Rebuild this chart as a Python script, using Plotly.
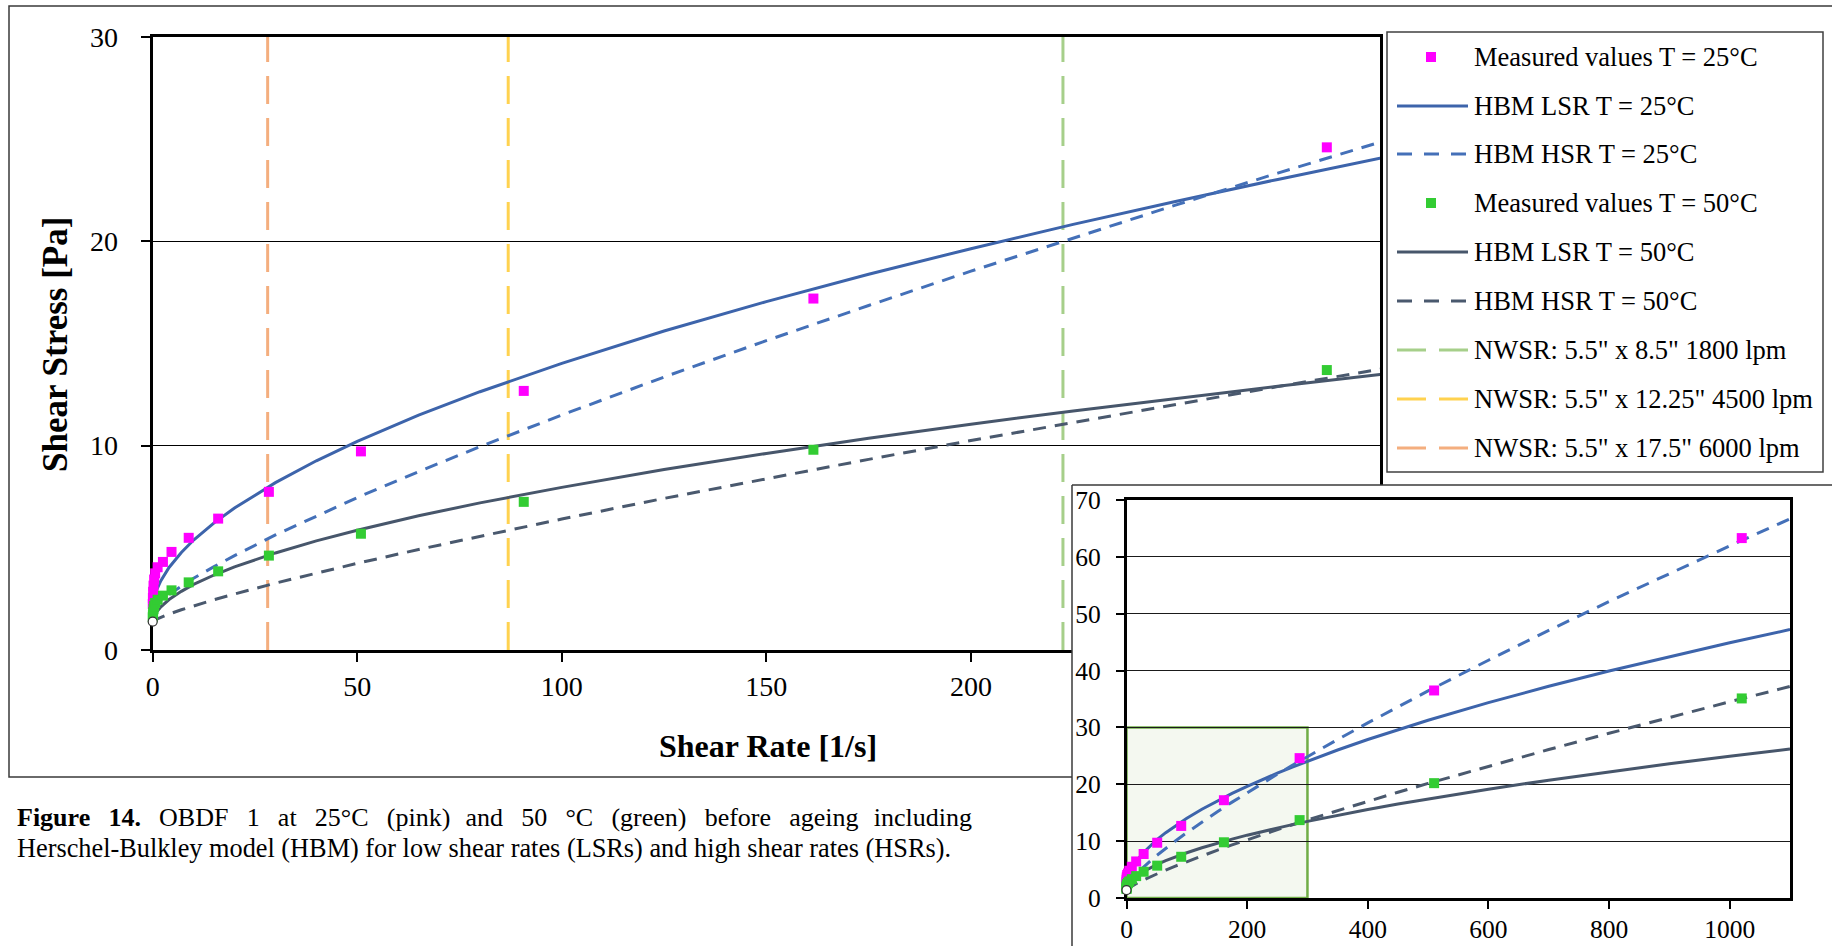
import plotly.graph_objects as go

# ---------------- data ----------------
shear_rate_measured = [0.02, 0.05, 0.1, 0.2, 0.35, 0.6, 1.2, 2.5, 4.6, 8.8, 16.0, 28.4,
                       50.9, 90.7, 161.5, 287.0, 510.0, 1020.0]
stress_measured_25 = [2.25, 2.55, 2.85, 3.15, 3.45, 3.75, 4.05, 4.31, 4.8, 5.49, 6.43, 7.74,
                      9.72, 12.68, 17.2, 24.6, 36.5, 63.3]
stress_measured_50 = [1.6, 1.7, 1.85, 2.0, 2.15, 2.3, 2.46, 2.66, 2.92, 3.31, 3.85, 4.62,
                      5.69, 7.25, 9.8, 13.7, 20.2, 35.1]

model_shear_rate = [0, 0.1, 0.25, 0.5, 1, 2, 4, 7, 10, 15, 20, 30, 40, 50, 65, 80, 100, 125,
                    150, 175, 200, 225, 250, 275, 300, 350, 400, 450, 500, 600, 700, 800,
                    900, 1000, 1100]
hbm_lsr_25 = [2.00, 2.27, 2.44, 2.65, 2.95, 3.39, 4.04, 4.77, 5.38, 6.22, 6.95, 8.19, 9.26,
              10.21, 11.49, 12.64, 14.03, 15.61, 17.05, 18.39, 19.64, 20.83, 21.95, 23.03,
              24.07, 26.03, 27.87, 29.60, 31.26, 34.36, 37.23, 39.92, 42.47, 44.90, 47.21]
hbm_hsr_25 = [2.00, 2.04, 2.08, 2.14, 2.24, 2.42, 2.72, 3.13, 3.51, 4.08, 4.62, 5.63, 6.56,
              7.46, 8.73, 9.95, 11.50, 13.36, 15.14, 16.86, 18.54, 20.17, 21.77, 23.34,
              24.87, 27.88, 30.79, 33.64, 36.42, 41.82, 47.06, 52.13, 57.09, 61.93, 66.68]
hbm_lsr_50 = [1.35, 1.50, 1.59, 1.71, 1.87, 2.11, 2.47, 2.87, 3.21, 3.67, 4.07, 4.75, 5.34,
              5.86, 6.57, 7.20, 7.96, 8.83, 9.62, 10.36, 11.05, 11.70, 12.32, 12.91,
              13.48, 14.56, 15.57, 16.52, 17.43, 19.14, 20.72, 22.20, 23.60, 24.93, 26.21]
hbm_hsr_50 = [1.40, 1.42, 1.44, 1.47, 1.51, 1.60, 1.76, 1.97, 2.16, 2.46, 2.74, 3.27, 3.76,
              4.24, 4.92, 5.57, 6.41, 7.42, 8.39, 9.33, 10.25, 11.14, 12.02, 12.89,
              13.74, 15.40, 17.02, 18.60, 20.15, 23.18, 26.11, 28.97, 31.77, 34.51, 37.20]

yield_point_rate = [0]
yield_point_stress = [1.39]

nwsr_rates = [222.5, 86.9, 28.1]
nwsr_labels = ['NWSR: 5.5" x 8.5" 1800 lpm',
               'NWSR: 5.5" x 12.25" 4500 lpm',
               'NWSR: 5.5" x 17.5" 6000 lpm']

main_x_ticks = [0, 50, 100, 150, 200, 250, 300]
main_y_ticks = [0, 10, 20, 30]
inset_x_ticks = [0, 200, 400, 600, 800, 1000]
inset_y_ticks = [0, 10, 20, 30, 40, 50, 60, 70]
MAIN_X_RANGE = [0, 300]
MAIN_Y_RANGE = [0, 30]
INSET_X_RANGE = [0, 1100]
INSET_Y_RANGE = [0, 70]

# ---------------- styles ----------------
PINK = '#FF00FF'
GREEN = '#33CC33'
BLUE = '#3D64AB'
BLUE_D = '#4470B8'
SLATE = '#47566B'
SLATE_D = '#4A596E'
NW_COLORS = ['#A6CF8A', '#FFD24F', '#F4AE7E']
FONT = 'Liberation Serif, Times New Roman, serif'

W, H = 1832, 946


def px(x):
    return x / W


def py(y):
    return 1 - y / H


fig = go.Figure()

for rate, col in zip(nwsr_rates, NW_COLORS):
    fig.add_trace(go.Scatter(x=[rate, rate], y=MAIN_Y_RANGE, mode='lines',
                             line=dict(color=col, width=3, dash='28px,14px'),
                             showlegend=False, hoverinfo='skip', xaxis='x', yaxis='y'))

# placeholder (invisible) trace so the cover subplot behind the inset is created
fig.add_trace(go.Scatter(x=[0.5], y=[0.5], mode='markers', marker=dict(opacity=0, size=1),
                         showlegend=False, hoverinfo='skip', xaxis='x2', yaxis='y2'))

curves = [(hbm_lsr_25, BLUE, 'solid'), (hbm_hsr_25, BLUE_D, '13px,9px'),
          (hbm_lsr_50, SLATE, 'solid'), (hbm_hsr_50, SLATE_D, '13px,9px')]

for xa, ya, msize in [('x', 'y', 10), ('x3', 'y3', 10)]:
    for vals, col, dash in curves:
        fig.add_trace(go.Scatter(x=model_shear_rate, y=vals, mode='lines',
                                 line=dict(color=col, width=3, dash=dash),
                                 showlegend=False, xaxis=xa, yaxis=ya))
    fig.add_trace(go.Scatter(x=shear_rate_measured, y=stress_measured_25, mode='markers',
                             marker=dict(symbol='square', size=msize, color=PINK),
                             showlegend=False, cliponaxis=False, xaxis=xa, yaxis=ya))
    fig.add_trace(go.Scatter(x=shear_rate_measured, y=stress_measured_50, mode='markers',
                             marker=dict(symbol='square', size=msize, color=GREEN),
                             showlegend=False, cliponaxis=False, xaxis=xa, yaxis=ya))
    fig.add_trace(go.Scatter(x=yield_point_rate, y=yield_point_stress, mode='markers',
                             marker=dict(symbol='circle', size=9, color='white',
                                         line=dict(color='#333333', width=1.2)),
                             showlegend=False, cliponaxis=False, xaxis=xa, yaxis=ya))

main_dom_x = [px(152.7), px(1380)]
main_dom_y = [py(650), py(37)]
frame_dom_x = [px(1072), 1]
frame_dom_y = [0, py(485)]
inset_dom_x = [px(1126.5), px(1790)]
inset_dom_y = [py(898), py(500)]

fig.update_layout(
    autosize=True,
    margin=dict(l=0, r=0, t=0, b=0, pad=0),
    paper_bgcolor='white', plot_bgcolor='white',
    font=dict(family=FONT, color='black'),
    showlegend=False,
    xaxis=dict(domain=main_dom_x, range=MAIN_X_RANGE, tickvals=main_x_ticks,
               showgrid=False, zeroline=False, showline=True, mirror=True,
               linecolor='black', linewidth=3, ticks='outside', ticklen=9,
               tickwidth=1.5, tickcolor='black', tickfont=dict(size=28, family=FONT),
               ticklabelstandoff=0, anchor='y', layer='below traces', automargin=False),
    yaxis=dict(domain=main_dom_y, range=MAIN_Y_RANGE, tickvals=main_y_ticks,
               showgrid=True, gridcolor='black', gridwidth=1, zeroline=False,
               showline=True, mirror=True, linecolor='black', linewidth=3,
               ticks='outside', ticklen=9, tickwidth=1.5, tickcolor='black',
               tickfont=dict(size=28, family=FONT), ticklabelstandoff=17,
               anchor='x', layer='below traces', automargin=False),
    xaxis2=dict(domain=frame_dom_x, range=[0, 1], visible=False, anchor='y2',
                fixedrange=True, automargin=False),
    yaxis2=dict(domain=frame_dom_y, range=[0, 1], visible=False, anchor='x2',
                fixedrange=True, automargin=False),
    xaxis3=dict(domain=inset_dom_x, range=INSET_X_RANGE, tickvals=inset_x_ticks,
                showgrid=False, zeroline=False, showline=True, mirror=True,
                linecolor='black', linewidth=2.5, ticks='outside', ticklen=8,
                tickwidth=1.5, tickcolor='black', tickfont=dict(size=25.5, family=FONT),
                ticklabelstandoff=-1, anchor='y3', layer='below traces', automargin=False),
    yaxis3=dict(domain=inset_dom_y, range=INSET_Y_RANGE, tickvals=inset_y_ticks,
                showgrid=True, gridcolor='#1a1a1a', gridwidth=1, zeroline=False,
                showline=True, mirror=True, linecolor='black', linewidth=2.5,
                ticks='outside', ticklen=8, tickwidth=1.5, tickcolor='black',
                tickfont=dict(size=25.5, family=FONT), ticklabelstandoff=10,
                anchor='x3', layer='below traces', automargin=False),
)

shapes = []
shapes.append(dict(type='rect', xref='paper', yref='paper', x0=px(9), x1=px(1850),
                   y0=py(777), y1=py(6), line=dict(color='#3a3a3a', width=1.5),
                   fillcolor='rgba(0,0,0,0)', layer='below'))
shapes.append(dict(type='line', xref='paper', yref='paper', x0=px(1072), x1=px(1850),
                   y0=py(485), y1=py(485), line=dict(color='#3a3a3a', width=1.5),
                   layer='above'))
shapes.append(dict(type='line', xref='paper', yref='paper', x0=px(1072), x1=px(1072),
                   y0=py(485), y1=py(960), line=dict(color='#3a3a3a', width=1.5),
                   layer='above'))
shapes.append(dict(type='rect', xref='x3', yref='y3', x0=MAIN_X_RANGE[0], x1=MAIN_X_RANGE[1],
                   y0=MAIN_Y_RANGE[0], y1=MAIN_Y_RANGE[1],
                   line=dict(color='#70AD47', width=2.5), fillcolor='#F4F8F0',
                   layer='below'))
shapes.append(dict(type='rect', xref='paper', yref='paper', x0=px(1387), x1=px(1823),
                   y0=py(472), y1=py(32), line=dict(color='#404040', width=1.5),
                   fillcolor='white', layer='above'))

legend_rows = [57, 106, 154, 203, 252, 301, 350, 399, 448]
legend_items = [
    ('marker', PINK, None, 'Measured values T = 25°C'),
    ('line', BLUE, 'solid', 'HBM LSR T = 25°C'),
    ('line', BLUE_D, '15px,12px', 'HBM HSR T = 25°C'),
    ('marker', GREEN, None, 'Measured values T = 50°C'),
    ('line', SLATE, 'solid', 'HBM LSR T = 50°C'),
    ('line', SLATE_D, '15px,12px', 'HBM HSR T = 50°C'),
    ('line', NW_COLORS[0], '29px,13px', nwsr_labels[0]),
    ('line', NW_COLORS[1], '29px,13px', nwsr_labels[1]),
    ('line', NW_COLORS[2], '29px,13px', nwsr_labels[2]),
]
annotations = []
for ry, (kind, col, dash, label) in zip(legend_rows, legend_items):
    if kind == 'marker':
        shapes.append(dict(type='rect', xref='paper', yref='paper',
                           x0=px(1431 - 5), x1=px(1431 + 5),
                           y0=py(ry + 5), y1=py(ry - 5),
                           line=dict(width=0), fillcolor=col, layer='above'))
    else:
        shapes.append(dict(type='line', xref='paper', yref='paper', x0=px(1397),
                           x1=px(1468), y0=py(ry), y1=py(ry),
                           line=dict(color=col, width=3, dash=dash), layer='above'))
    annotations.append(dict(xref='paper', yref='paper', x=px(1472), y=py(ry),
                            xanchor='left', yanchor='middle', showarrow=False,
                            text=label, font=dict(size=26.5, family=FONT, color='black')))

annotations.append(dict(xref='paper', yref='paper', x=px(55), y=py(345), textangle=-90,
                        xanchor='center', yanchor='middle', showarrow=False,
                        text='<b>Shear Stress [Pa]</b>',
                        font=dict(size=35, family=FONT, color='black')))
annotations.append(dict(xref='paper', yref='paper', x=px(768), y=py(746),
                        xanchor='center', yanchor='middle', showarrow=False,
                        text='<b>Shear Rate [1/s]</b>',
                        font=dict(size=32, family=FONT, color='black')))

# caption, first line justified with widened word gaps
wide_gap = '\u00a0\u00a0\u2009'
narrow_gap = '\u00a0\u00a0\u200a'
gap_kinds = [1, 1, 1, 1, 1, 1, 0, 1, 1, 1, 1, 1, 0]
line1_words = ['<b>Figure', '14.</b>', 'OBDF', '1', 'at', '25°C', '(pink)', 'and', '50', '°C',
               '(green)', 'before', 'ageing', 'including']
line1 = line1_words[0]
for word, g in zip(line1_words[1:], gap_kinds):
    line1 += (wide_gap if g else narrow_gap) + word
annotations.append(dict(xref='paper', yref='paper', x=px(15), y=py(817),
                        xanchor='left', yanchor='middle', showarrow=False,
                        text=line1,
                        font=dict(size=26, family=FONT, color='black')))
annotations.append(dict(xref='paper', yref='paper', x=px(15), y=py(848),
                        xanchor='left', yanchor='middle', showarrow=False,
                        text='Herschel-Bulkley model (HBM) for low shear rates (LSRs) and high shear rates (HSRs).',
                        font=dict(size=26.3, family=FONT, color='black')))

fig.update_layout(shapes=shapes, annotations=annotations)

fig.write_html('out.html', config={'displayModeBar': False, 'responsive': True},
               default_width='100vw', default_height='100vh',
               post_script="document.body.style.margin='0';document.body.style.overflow='hidden';"
                           "document.documentElement.style.overflow='hidden';")
